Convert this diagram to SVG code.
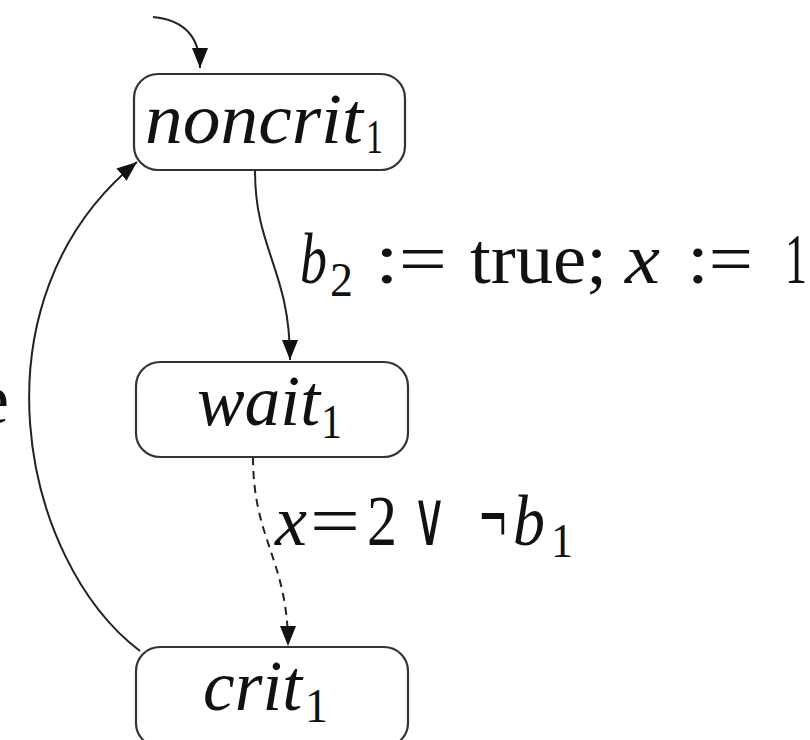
<svg xmlns="http://www.w3.org/2000/svg" width="810" height="740" viewBox="0 0 810 740">
<style>
.box{fill:#fff;stroke:#333;stroke-width:2.2}
.edge{fill:none;stroke:#222;stroke-width:2}
.dash{stroke-dasharray:8,6}
.it{font-family:"Liberation Serif",serif;font-style:italic;font-size:72px;fill:#111}
.rm{font-family:"Liberation Serif",serif;font-size:72px;fill:#111}
.sym{font-family:"DejaVu Serif",serif;font-size:76px;fill:#111}
.sub{font-family:"Liberation Serif",serif;font-size:48px;fill:#111}
</style>
<defs>
<marker id="ah" viewBox="0 0 20 16" refX="20" refY="8" markerWidth="20" markerHeight="16" markerUnits="userSpaceOnUse" orient="auto">
<path d="M0,0 L20,8 L0,16 Z" fill="#111"/>
</marker>
</defs>
<rect width="810" height="740" fill="#fff"/>
<g id="connectors">
<path class="edge" d="M153,17 C185,20 200,38 200,68" marker-end="url(#ah)"/>
<path class="edge" d="M255,171 C255,250 290,270 290,360" marker-end="url(#ah)"/>
<path class="edge dash" d="M253,457 C253,540 288,560 288,646" marker-end="url(#ah)"/>
<path class="edge" d="M140,651 C20,560 -32,300 137,162" marker-end="url(#ah)"/>
<text class="rm" x="9" y="423" text-anchor="end">e</text>
<g id="label-b2">
<text class="it" x="300" y="283" textLength="27" lengthAdjust="spacingAndGlyphs">b</text>
<text class="sub" x="330" y="296" textLength="23" lengthAdjust="spacingAndGlyphs">2</text>
<text class="rm" x="375" y="283" textLength="72" lengthAdjust="spacingAndGlyphs">:=</text>
<text class="rm" x="470" y="283" textLength="137" lengthAdjust="spacingAndGlyphs">true;</text>
<text class="it" x="625" y="283" textLength="35" lengthAdjust="spacingAndGlyphs">x</text>
<text class="rm" x="687" y="283" textLength="66" lengthAdjust="spacingAndGlyphs">:=</text>
<text class="rm" x="785" y="283" textLength="22" lengthAdjust="spacingAndGlyphs">1</text>
</g>
<g id="label-x2">
<text class="it" x="275" y="545" textLength="32" lengthAdjust="spacingAndGlyphs">x</text>
<text class="rm" x="310" y="545" textLength="50" lengthAdjust="spacingAndGlyphs">=</text>
<text class="rm" x="367" y="545" textLength="30" lengthAdjust="spacingAndGlyphs">2</text>
<text class="sym" x="412" y="545" textLength="35" lengthAdjust="spacingAndGlyphs">∨</text>
<text class="sym" x="478" y="545" textLength="30" lengthAdjust="spacingAndGlyphs">¬</text>
<text class="it" x="513" y="545" textLength="32" lengthAdjust="spacingAndGlyphs">b</text>
<text class="sub" x="551" y="557" textLength="22" lengthAdjust="spacingAndGlyphs">1</text>
</g>
</g>
<g id="noncrit1">
<rect class="box" x="134" y="74" width="271" height="96" rx="24"/>
<text class="it" x="145" y="143" textLength="218" lengthAdjust="spacingAndGlyphs">noncrit</text>
<text class="sub" x="366" y="153" textLength="17" lengthAdjust="spacingAndGlyphs">1</text>
</g>
<g id="wait1">
<rect class="box" x="136" y="362" width="272" height="95" rx="24"/>
<text class="it" x="197" y="425" textLength="123" lengthAdjust="spacingAndGlyphs">wait</text>
<text class="sub" x="321" y="438" textLength="21" lengthAdjust="spacingAndGlyphs">1</text>
</g>
<g id="crit1">
<rect class="box" x="136" y="647" width="272" height="100" rx="24"/>
<text class="it" x="203" y="710" textLength="99" lengthAdjust="spacingAndGlyphs">crit</text>
<text class="sub" x="305" y="722" textLength="23" lengthAdjust="spacingAndGlyphs">1</text>
</g>
</svg>
